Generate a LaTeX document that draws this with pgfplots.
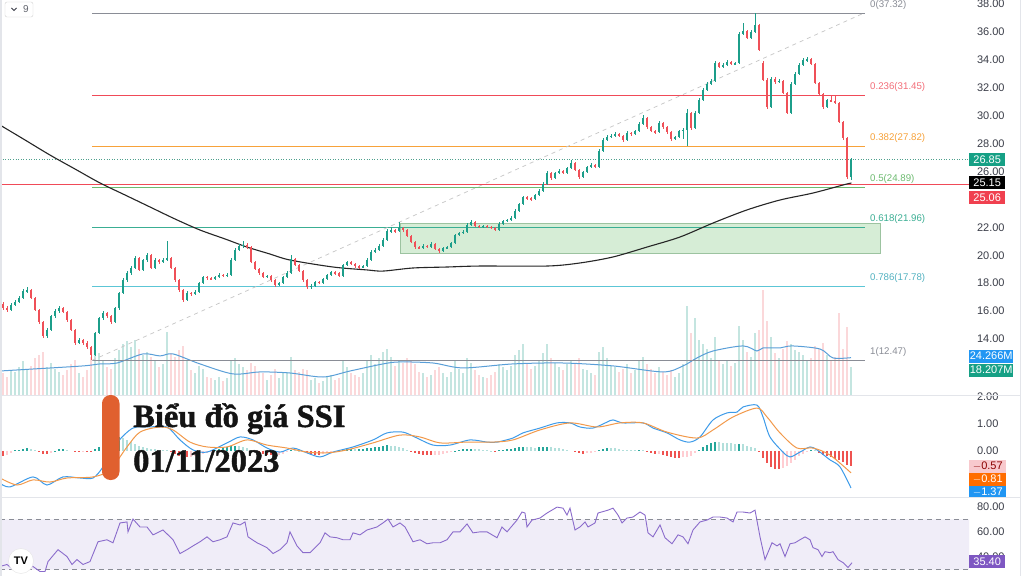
\documentclass[border=0pt]{standalone}
\usepackage{fontspec}
\setmainfont{Liberation Sans}
\newfontfamily\titlefont[BoldFeatures={FakeBold=1.3}]{Liberation Serif}
\usepackage{pgfplots}
\usepackage{pgfplotstable}
\pgfplotsset{compat=1.18}

\definecolor{upc}{HTML}{1C9E8A}
\definecolor{dnc}{HTML}{EF5058}
\definecolor{tvtext}{HTML}{3A3D48}
\definecolor{lvgrey}{HTML}{8A8D96}
\definecolor{lvred}{HTML}{F04A58}
\definecolor{lvorange}{HTML}{F7A23A}
\definecolor{lvgreen}{HTML}{6DBB70}
\definecolor{lvteal}{HTML}{3AAE93}
\definecolor{lvcyan}{HTML}{5CC6D6}
\definecolor{macdblue}{HTML}{3D9BE9}
\definecolor{sigorange}{HTML}{F2994A}
\definecolor{histg}{HTML}{26A69A}
\definecolor{histlg}{HTML}{B2DFDB}
\definecolor{histlr}{HTML}{FFCDD2}
\definecolor{histr}{HTML}{EF5350}
\definecolor{rsip}{HTML}{8A6BCB}
\definecolor{volblue}{HTML}{5A9FD8}
\definecolor{sepc}{HTML}{E3E5EA}
\definecolor{titleorange}{HTML}{E0602F}
\definecolor{boxgreen}{HTML}{16A085}
\definecolor{boxred}{HTML}{F0404F}
\definecolor{boxblue}{HTML}{2196F3}
\definecolor{boxorange}{HTML}{FF6D00}
\definecolor{boxpink}{HTML}{F8C9CD}
\definecolor{boxpurple}{HTML}{7E57C2}
\definecolor{rectfill}{HTML}{D6EDD6}
\definecolor{rectline}{HTML}{9CC3A0}

\newcommand\axf{\fontsize{11}{12}\selectfont}
\newcommand\fibf{\fontsize{9.7}{11}\selectfont}

\tikzset{pbox/.style={anchor=west, inner sep=0pt, minimum height=13pt, minimum width=36pt, fill=#1, text=white, font=\axf}}

\pgfplotstableread{
i o h l c v
0 16.50 16.62 16.05 16.22 14
1 16.22 16.40 15.95 16.10 12
2 16.10 16.55 16.02 16.44 16
3 16.44 16.80 16.35 16.65 15
4 16.65 17.05 16.55 16.94 18
5 16.94 17.55 16.88 17.44 22
6 17.44 17.70 17.30 17.51 17
7 17.51 17.58 16.85 16.94 19
8 16.94 17.00 15.98 16.08 24
9 16.08 16.15 15.10 15.22 26
10 15.22 15.30 14.05 14.22 28
11 14.22 14.80 14.10 14.65 18
12 14.65 15.75 14.55 15.65 21
13 15.65 16.12 15.50 16.01 17
14 16.01 16.35 15.90 16.22 15
15 16.22 16.30 15.85 15.94 13
16 15.94 16.00 15.25 15.37 16
17 15.37 15.45 14.55 14.65 20
18 14.65 14.72 13.60 13.72 23
19 13.72 14.10 13.62 13.93 14
20 13.93 14.00 13.60 13.72 12
21 13.72 13.85 13.30 13.43 16
22 13.43 13.50 12.47 12.86 25
23 12.86 14.50 12.80 14.43 30
24 14.43 15.60 14.35 15.51 27
25 15.51 15.98 15.40 15.87 22
26 15.87 15.95 15.50 15.65 18
27 15.65 15.72 15.10 15.22 17
28 15.22 16.30 15.15 16.22 24
29 16.22 17.40 16.10 17.30 29
30 17.30 18.35 17.20 18.23 33
31 18.23 18.90 18.10 18.73 35
32 18.73 19.25 18.60 19.09 31
33 19.09 19.95 19.00 19.81 36
34 19.81 19.90 18.85 18.95 30
35 18.95 19.75 18.88 19.66 26
36 19.66 20.15 19.55 20.02 28
37 20.02 20.10 19.00 19.09 25
38 19.09 19.80 19.02 19.66 22
39 19.66 19.75 19.40 19.50 18
40 19.50 19.78 19.42 19.66 20
41 19.66 21.05 19.58 19.81 41
42 19.81 19.88 19.00 19.09 27
43 19.09 19.15 18.12 18.23 25
44 18.23 18.30 17.40 17.51 29
45 17.51 17.58 16.65 16.80 32
46 16.80 17.42 16.70 17.30 22
47 17.30 17.40 17.10 17.23 16
48 17.23 17.50 17.15 17.37 14
49 17.37 18.12 17.30 18.02 19
50 18.02 18.55 17.95 18.45 17
51 18.45 18.52 18.25 18.37 12
52 18.37 18.45 18.20 18.30 11
53 18.30 18.55 18.22 18.45 10
54 18.45 18.70 18.38 18.59 12
55 18.59 18.66 18.42 18.52 9
56 18.52 18.70 18.45 18.59 11
57 18.59 19.78 18.52 19.66 22
58 19.66 20.50 19.58 20.38 24
59 20.38 20.80 20.30 20.67 20
60 20.67 21.00 20.55 20.74 18
61 20.74 20.85 20.45 20.59 16
62 20.59 20.65 19.42 19.52 21
63 19.52 19.60 18.92 19.02 19
64 19.02 19.10 18.62 18.73 15
65 18.73 18.80 18.35 18.45 14
66 18.45 18.62 18.38 18.52 10
67 18.52 18.58 18.12 18.23 13
68 18.23 18.30 17.75 17.87 17
69 17.87 18.12 17.78 18.02 11
70 18.02 18.55 17.95 18.45 14
71 18.45 18.85 18.38 18.73 15
72 18.73 20.05 18.65 19.73 25
73 19.73 19.82 19.20 19.30 16
74 19.30 19.38 18.80 18.88 15
75 18.88 18.95 18.12 18.23 17
76 18.23 18.30 17.62 17.73 16
77 17.73 17.92 17.62 17.80 10
78 17.80 18.18 17.72 18.09 11
79 18.09 18.15 17.92 18.02 8
80 18.02 18.40 17.95 18.30 9
81 18.30 18.68 18.22 18.59 12
82 18.59 18.90 18.50 18.80 13
83 18.80 18.88 18.62 18.73 10
84 18.73 18.80 18.42 18.52 11
85 18.52 19.40 18.45 19.30 22
86 19.30 19.62 19.22 19.52 18
87 19.52 19.60 19.28 19.38 14
88 19.38 19.45 19.12 19.23 13
89 19.23 19.30 19.05 19.16 12
90 19.16 19.32 19.08 19.23 14
91 19.23 19.78 19.15 19.66 22
92 19.66 20.35 19.58 20.24 26
93 20.24 20.50 20.15 20.38 20
94 20.38 20.78 20.30 20.67 24
95 20.67 21.22 20.58 21.10 28
96 21.10 21.85 21.02 21.74 30
97 21.74 22.00 21.62 21.81 25
98 21.81 21.90 21.60 21.74 19
99 21.74 22.40 21.65 21.96 23
100 21.96 22.05 21.70 21.81 21
101 21.81 21.88 21.28 21.38 24
102 21.38 21.45 20.85 20.95 22
103 20.95 21.02 20.48 20.59 20
104 20.59 20.70 20.42 20.52 15
105 20.52 20.78 20.45 20.67 14
106 20.67 20.75 20.50 20.59 12
107 20.59 20.92 20.52 20.81 13
108 20.81 20.88 20.35 20.45 16
109 20.45 20.55 20.15 20.31 18
110 20.31 20.62 20.25 20.52 14
111 20.52 20.68 20.45 20.59 12
112 20.59 20.98 20.52 20.88 15
113 20.88 21.55 20.80 21.45 22
114 21.45 21.70 21.38 21.60 17
115 21.60 21.78 21.50 21.67 14
116 21.67 22.28 21.60 22.17 24
117 22.17 22.50 22.10 22.39 21
118 22.39 22.45 22.00 22.10 16
119 22.10 22.18 21.95 22.03 13
120 22.03 22.20 21.98 22.10 12
121 22.10 22.15 21.95 22.03 11
122 22.03 22.10 21.88 21.96 13
123 21.96 22.02 21.72 21.81 15
124 21.81 22.35 21.75 22.24 20
125 22.24 22.55 22.18 22.46 18
126 22.46 22.62 22.38 22.53 16
127 22.53 22.80 22.45 22.67 19
128 22.67 23.28 22.60 23.17 26
129 23.17 23.78 23.10 23.67 29
130 23.67 24.28 23.60 24.17 33
131 24.17 24.25 23.98 24.10 21
132 24.10 24.18 23.92 24.03 17
133 24.03 24.42 23.96 24.32 19
134 24.32 24.72 24.25 24.61 22
135 24.61 25.22 24.55 25.11 27
136 25.11 26.02 25.05 25.90 33
137 25.90 26.00 25.42 25.54 24
138 25.54 26.00 25.48 25.90 21
139 25.90 26.15 25.82 26.04 18
140 26.04 26.12 25.80 25.90 16
141 25.90 26.35 25.85 26.25 20
142 26.25 26.80 26.18 26.61 23
143 26.61 26.68 26.02 26.11 21
144 26.11 26.18 25.50 25.61 24
145 25.61 26.05 25.55 25.97 17
146 25.97 26.42 25.90 26.33 16
147 26.33 26.58 26.25 26.47 14
148 26.47 26.55 26.22 26.33 13
149 26.33 27.58 26.28 27.47 28
150 27.47 28.38 27.40 28.26 31
151 28.26 28.60 28.18 28.47 24
152 28.47 28.68 28.38 28.55 19
153 28.55 28.82 28.48 28.69 18
154 28.69 28.75 28.45 28.55 15
155 28.55 28.62 28.15 28.26 17
156 28.26 28.88 28.20 28.76 20
157 28.76 28.85 28.58 28.69 14
158 28.69 29.00 28.62 28.90 16
159 28.90 29.52 28.82 29.41 22
160 29.41 30.05 29.35 29.84 25
161 29.84 29.92 29.08 29.19 20
162 29.19 29.25 28.80 28.90 17
163 28.90 29.00 28.72 28.83 14
164 28.83 29.60 28.75 29.48 18
165 29.48 29.55 29.08 29.19 15
166 29.19 29.25 28.72 28.83 13
167 28.83 28.90 28.20 28.33 16
168 28.33 28.58 28.25 28.47 12
169 28.47 29.00 28.40 28.90 14
170 28.90 29.10 28.30 28.98 20
171 28.98 30.45 27.82 30.19 58
172 30.19 30.28 29.00 29.12 40
173 29.12 30.30 29.05 30.19 50
174 30.19 31.25 30.12 31.12 36
175 31.12 31.95 31.05 31.84 33
176 31.84 32.40 31.75 32.27 30
177 32.27 32.60 32.18 32.49 24
178 32.49 33.90 32.40 33.77 38
179 33.77 33.85 33.38 33.49 22
180 33.49 33.75 33.40 33.63 20
181 33.63 33.98 33.55 33.85 23
182 33.85 33.92 33.60 33.70 19
183 33.70 33.88 33.62 33.77 21
184 33.77 35.98 33.70 35.85 45
185 35.85 36.65 35.78 36.07 36
186 36.07 36.15 35.48 35.57 28
187 35.57 36.12 35.50 36.00 25
188 36.00 37.32 35.92 36.50 40
189 36.50 36.60 34.60 34.71 42
190 33.80 33.90 32.45 32.56 68
191 32.56 32.70 30.50 30.62 48
192 30.62 32.80 30.55 32.63 38
193 32.63 32.75 32.30 32.42 27
194 32.42 32.62 32.35 32.50 24
195 32.50 32.58 31.52 31.63 30
196 31.63 31.70 30.10 30.19 35
197 30.19 32.40 30.12 32.27 33
198 32.27 33.10 32.20 32.99 29
199 32.99 33.75 32.90 33.63 28
200 33.63 34.12 33.55 33.99 26
201 33.99 34.18 33.85 34.05 22
202 34.05 34.10 33.60 33.71 24
203 33.71 33.78 32.25 32.34 32
204 32.34 32.42 31.45 31.55 30
205 31.55 31.62 30.50 30.62 34
206 30.62 31.20 30.55 31.12 26
207 31.12 31.40 30.95 31.05 22
208 31.05 31.50 30.82 30.91 25
209 30.91 31.00 29.45 29.55 53
210 29.55 29.62 28.28 28.40 30
211 28.40 28.48 25.50 25.60 44
212 25.60 27.00 25.40 26.85 18.207
}\candles

\pgfplotstableread{
i h k
0 -0.18 3
1 -0.15 2
2 -0.08 2
3 0.02 0
4 0.05 0
5 0.08 0
6 0.10 0
7 0.09 1
8 0.04 1
9 -0.04 3
10 -0.10 3
11 -0.12 3
12 -0.06 2
13 0.01 0
14 0.06 0
15 0.07 0
16 0.04 1
17 0.00 1
18 -0.03 3
19 -0.03 3
20 -0.02 2
21 -0.04 3
22 -0.05 3
23 0.06 0
24 0.16 0
25 0.26 0
26 0.36 0
27 0.44 0
28 0.50 0
29 0.52 0
30 0.48 1
31 0.40 1
32 0.32 1
33 0.27 1
34 0.20 1
35 0.15 1
36 0.10 1
37 0.08 1
38 0.06 1
39 0.05 1
40 0.04 1
41 0.02 1
42 -0.05 3
43 -0.12 3
44 -0.18 3
45 -0.23 3
46 -0.24 3
47 -0.22 2
48 -0.20 2
49 -0.17 2
50 -0.12 2
51 -0.07 2
52 -0.02 2
53 0.04 0
54 0.09 0
55 0.13 0
56 0.16 0
57 0.19 0
58 0.20 0
59 0.19 1
60 0.16 1
61 0.12 1
62 0.05 1
63 -0.02 3
64 -0.07 3
65 -0.11 3
66 -0.13 3
67 -0.15 3
68 -0.17 3
69 -0.15 2
70 -0.10 2
71 -0.03 2
72 0.04 0
73 0.04 1
74 0.01 1
75 -0.03 3
76 -0.07 3
77 -0.11 3
78 -0.14 3
79 -0.15 3
80 -0.12 2
81 -0.08 2
82 -0.03 2
83 0.01 0
84 0.02 0
85 0.04 0
86 0.06 0
87 0.07 0
88 0.07 1
89 0.08 0
90 0.09 0
91 0.11 0
92 0.12 0
93 0.14 0
94 0.16 0
95 0.19 0
96 0.21 0
97 0.20 1
98 0.17 1
99 0.13 1
100 0.10 1
101 0.04 1
102 -0.02 3
103 -0.07 3
104 -0.10 3
105 -0.13 3
106 -0.15 3
107 -0.16 3
108 -0.15 2
109 -0.13 2
110 -0.11 2
111 -0.08 2
112 -0.05 2
113 0.01 0
114 0.05 0
115 0.07 0
116 0.08 0
117 0.09 0
118 0.08 1
119 0.06 1
120 0.04 1
121 0.02 1
122 0.01 1
123 -0.01 3
124 0.02 0
125 0.04 0
126 0.06 0
127 0.08 0
128 0.11 0
129 0.14 0
130 0.15 0
131 0.14 1
132 0.13 1
133 0.12 1
134 0.13 0
135 0.14 0
136 0.15 0
137 0.13 1
138 0.12 1
139 0.10 1
140 0.06 1
141 0.02 1
142 0.00 1
143 -0.04 3
144 -0.08 3
145 -0.10 3
146 -0.09 2
147 -0.06 2
148 -0.02 2
149 0.04 0
150 0.09 0
151 0.12 0
152 0.12 1
153 0.10 1
154 0.07 1
155 0.05 1
156 0.03 1
157 0.02 1
158 0.02 1
159 0.03 0
160 0.02 1
161 -0.04 3
162 -0.08 3
163 -0.11 3
164 -0.10 2
165 -0.13 3
166 -0.17 3
167 -0.22 3
168 -0.25 3
169 -0.26 3
170 -0.24 2
171 -0.22 2
172 -0.17 2
173 -0.08 2
174 0.04 0
175 0.14 0
176 0.22 0
177 0.29 0
178 0.34 0
179 0.33 1
180 0.31 1
181 0.30 1
182 0.28 1
183 0.25 1
184 0.27 0
185 0.25 1
186 0.20 1
187 0.16 1
188 0.12 1
189 -0.05 3
190 -0.25 3
191 -0.45 3
192 -0.58 3
193 -0.66 3
194 -0.68 3
195 -0.62 2
196 -0.56 2
197 -0.45 2
198 -0.32 2
199 -0.20 2
200 -0.10 2
201 -0.02 2
202 0.03 0
203 0.02 1
204 -0.06 3
205 -0.14 3
206 -0.20 3
207 -0.24 3
208 -0.28 3
209 -0.35 3
210 -0.42 3
211 -0.52 3
212 -0.57 3
}\hist

\begin{document}
\begin{tikzpicture}[x=1pt,y=1pt]
\path[use as bounding box] (0,0) rectangle (1024,576);
\fill[white] (0,0) rectangle (1024,576);

\pgfplotsset{tvaxis/.style={anchor=south west, scale only axis, width=969pt,
  xmin=-0.75, xmax=241.5, axis line style={draw=none}, xtick=\empty,
  major tick length=0pt, yticklabel pos=right,
  yticklabel style={anchor=west, xshift=4.5pt, font=\axf, text=tvtext},
  /pgf/number format/assume math mode=true,
  /pgf/number format/fixed, /pgf/number format/fixed zerofill,
  /pgf/number format/precision=2, clip=false}}

% ---------- volume (overlay behind price) ----------
\begin{axis}[tvaxis, at={(0pt,181pt)}, height=395pt, ymin=0, ymax=256.75, ytick=\empty]
\addplot[ycomb, draw=upc, draw opacity=0.26, line width=1.7pt, forget plot]
  table[x=i, y expr={\thisrow{c}>=\thisrow{o} ? \thisrow{v} : nan}] {\candles};
\addplot[ycomb, draw=dnc, draw opacity=0.22, line width=1.7pt, forget plot]
  table[x=i, y expr={\thisrow{c}<\thisrow{o} ? \thisrow{v} : nan}] {\candles};
\addplot[color=volblue, line width=1pt, smooth] coordinates {
(-0.75,15.6) (7.5,16.9) (20,18.9) (24.25,20.2) (28.5,20.8) (35,26.7) (39.25,25.4)
(42.5,26.7) (49.25,20.2) (57.5,13.7) (64.25,15.0) (71.75,14.3) (80,11.7) (86.75,15.6)
(95,20.2) (99.25,21.5) (107.5,20.8) (115,17.6) (127.5,20.2) (140,20.8) (152.5,18.9)
(165,15.0) (170,18.9) (173.5,24.1) (177.5,28.6) (185,31.9) (188.5,28.6) (190,30.6)
(194.25,30.6) (197.25,31.9) (204.25,29.9) (207.5,24.1) (212,24.27)};
\coordinate (vb1) at (axis cs:241.5,25.35);
\coordinate (vb2) at (axis cs:241.5,16.25);
\end{axis}

% ---------- price ----------
\begin{axis}[tvaxis, at={(0pt,181pt)}, height=395pt, ymin=9.992, ymax=38.287,
  ytick={14,16,18,20,22,26,28,30,32,34,36,38}]
\addplot[color=rectline, fill=rectfill, line width=0.7pt] coordinates
  {(99.25,20.16) (219.25,20.16) (219.25,22.31) (99.25,22.31) (99.25,20.16)};
\draw[draw=lvgrey, line width=1pt] (axis cs:22.25,37.32) -- (axis cs:215.5,37.32);
\draw[draw=lvred, line width=1pt] (axis cs:22.25,31.45) -- (axis cs:215.5,31.45);
\draw[draw=lvorange, line width=1pt] (axis cs:22.25,27.82) -- (axis cs:215.5,27.82);
\draw[draw=lvgreen, line width=1pt] (axis cs:22.25,24.89) -- (axis cs:215.5,24.89);
\draw[draw=lvteal, line width=1pt] (axis cs:22.25,21.96) -- (axis cs:215.5,21.96);
\draw[draw=lvcyan, line width=1pt] (axis cs:22.25,17.78) -- (axis cs:215.5,17.78);
\draw[draw=lvgrey, line width=1pt] (axis cs:22.25,12.47) -- (axis cs:215.5,12.47);
\draw[draw=gray!45, line width=0.7pt, dash pattern=on 4pt off 4pt] (axis cs:22.25,12.47) -- (axis cs:215,37.32);
\draw[draw=lvred, line width=0.8pt] (axis cs:-0.75,25.06) -- (axis cs:241.5,25.06);
\draw[draw=lvteal!70!gray, line width=0.6pt, dotted] (axis cs:-0.75,26.85) -- (axis cs:241.5,26.85);
\node[anchor=west, yshift=8.5pt, inner sep=0pt, font=\fibf, text=lvgrey] at (axis cs:216.75,37.32) {0(37.32)};
\node[anchor=west, yshift=8.5pt, inner sep=0pt, font=\fibf, text=lvred!80] at (axis cs:216.75,31.45) {0.236(31.45)};
\node[anchor=west, yshift=8.5pt, inner sep=0pt, font=\fibf, text=lvorange] at (axis cs:216.75,27.82) {0.382(27.82)};
\node[anchor=west, yshift=8.5pt, inner sep=0pt, font=\fibf, text=lvgreen] at (axis cs:216.75,24.89) {0.5(24.89)};
\node[anchor=west, yshift=8.5pt, inner sep=0pt, font=\fibf, text=lvteal] at (axis cs:216.75,21.96) {0.618(21.96)};
\node[anchor=west, yshift=8.5pt, inner sep=0pt, font=\fibf, text=lvcyan!90!black] at (axis cs:216.75,17.78) {0.786(17.78)};
\node[anchor=west, yshift=8.5pt, inner sep=0pt, font=\fibf, text=lvgrey] at (axis cs:216.75,12.47) {1(12.47)};
\addplot[color=black!85, line width=1.1pt, smooth] coordinates {
(-0.75,29.33) (5.5,28.26) (11.75,27.18) (18,26.18) (24.25,25.18) (30.5,24.32)
(36.75,23.46) (43,22.60) (49.25,21.81) (55.5,21.17) (61,20.59) (66.75,20.09)
(71.75,19.66) (82.5,19.16) (91,18.95) (95,18.87) (102.5,19.09) (111,19.16)
(119.25,19.23) (136,19.23) (144.25,19.45) (152.5,19.88) (161,20.59) (169.25,21.31)
(177.5,22.31) (186,23.25) (194.25,23.96) (202.5,24.46) (211,25.11) (212,25.15)};
\addplot[forget plot, draw=none, mark=none, error bars/.cd, y dir=both, y explicit, error mark=none,
  error bar style={draw=upc, line width=0.8pt, solid}]
  table[x=i, y expr={\thisrow{c}>=\thisrow{o} ? (\thisrow{h}+\thisrow{l})/2 : nan},
        y error expr={(\thisrow{h}-\thisrow{l})/2}] {\candles};
\addplot[forget plot, draw=none, mark=none, error bars/.cd, y dir=both, y explicit, error mark=none,
  error bar style={draw=dnc, line width=0.8pt, solid}]
  table[x=i, y expr={\thisrow{c}<\thisrow{o} ? (\thisrow{h}+\thisrow{l})/2 : nan},
        y error expr={(\thisrow{h}-\thisrow{l})/2}] {\candles};
\addplot[forget plot, draw=none, mark=none, error bars/.cd, y dir=both, y explicit, error mark=none,
  error bar style={draw=upc, line width=2.6pt, solid}]
  table[x=i, y expr={\thisrow{c}>=\thisrow{o} ? (\thisrow{o}+\thisrow{c})/2 : nan},
        y error expr={max(abs(\thisrow{c}-\thisrow{o})/2,0.04)}] {\candles};
\addplot[forget plot, draw=none, mark=none, error bars/.cd, y dir=both, y explicit, error mark=none,
  error bar style={draw=dnc, line width=2.6pt, solid}]
  table[x=i, y expr={\thisrow{c}<\thisrow{o} ? (\thisrow{o}+\thisrow{c})/2 : nan},
        y error expr={max(abs(\thisrow{c}-\thisrow{o})/2,0.04)}] {\candles};
\coordinate (pb1) at (axis cs:241.5,26.86);
\coordinate (pb2) at (axis cs:241.5,25.21);
\coordinate (pb3) at (axis cs:241.5,24.14);
\end{axis}

% ---------- MACD ----------
\begin{axis}[tvaxis, at={(0pt,79pt)}, height=102pt, ymin=-1.704, ymax=2.074, ytick={0,1,2}]
\addplot[ycomb, draw=histg, line width=2pt, forget plot] table[x=i, y expr={\thisrow{k}==0 ? \thisrow{h} : nan}] {\hist};
\addplot[ycomb, draw=histlg, line width=2pt, forget plot] table[x=i, y expr={\thisrow{k}==1 ? \thisrow{h} : nan}] {\hist};
\addplot[ycomb, draw=histlr, line width=2pt, forget plot] table[x=i, y expr={\thisrow{k}==2 ? \thisrow{h} : nan}] {\hist};
\addplot[ycomb, draw=histr, line width=2pt, forget plot] table[x=i, y expr={\thisrow{k}==3 ? \thisrow{h} : nan}] {\hist};
\addplot[color=macdblue, line width=1pt, smooth] coordinates {
(-0.75,-1.19) (1.75,-1.33) (7.5,-0.96) (11,-1.26) (15,-0.96) (19.25,-1.0) (22.5,-1.0)
(25,-0.59) (28.5,0.30) (32.5,0.85) (36.75,0.89) (41,0.89) (44.25,0.41) (47.5,0.04)
(51,-0.04) (56,0.30) (59.25,0.52) (62.5,0.41) (66,0.11) (69.25,-0.04) (72.5,0.11)
(76,-0.07) (79.25,-0.22) (82.5,-0.04) (87.5,0.15) (92.5,0.41) (96,0.67) (100,0.70)
(103.5,0.48) (107.5,0.22) (111.75,0.22) (116.75,0.41) (121,0.33) (123.5,0.33)
(127.5,0.48) (130,0.67) (134.25,0.85) (138.5,1.04) (141.75,1.04) (144.25,0.89)
(147.5,0.85) (151,1.07) (152.5,1.15) (155,1.04) (160,1.04) (162.5,0.85) (166,0.67)
(169.25,0.41) (171.75,0.33) (174.25,0.52) (177.5,1.15) (181,1.41) (183.5,1.44)
(185,1.63) (188.5,1.70) (190,1.26) (191.75,0.52) (195,-0.04) (196.75,-0.22)
(199.25,-0.04) (201.75,0.15) (203.5,0.04) (206.75,-0.33) (209.25,-0.59) (212,-1.37)};
\addplot[color=sigorange, line width=1pt, smooth] coordinates {
(-0.75,-1.0) (3.5,-1.26) (7.5,-1.07) (11.75,-1.15) (16,-1.0) (22.5,-0.96) (26.75,-0.70)
(31,0.15) (34.25,0.70) (39.25,0.89) (42.5,0.78) (46.75,0.33) (51,0.15) (56,0.15)
(61,0.41) (66,0.22) (71,0.11) (76,-0.04) (81,-0.07) (86,0.04) (92.5,0.30) (99.25,0.59)
(104.25,0.52) (109.25,0.30) (116,0.33) (122.5,0.33) (127.5,0.41) (134.25,0.78)
(141.75,1.04) (148.5,0.89) (154.25,1.04) (160,1.04) (166,0.70) (173.5,0.48)
(177.5,0.78) (182.5,1.26) (188.5,1.59) (191,1.26) (194.25,0.67) (198.5,0.11)
(202.5,0.11) (206.75,-0.15) (212,-0.81)};
\coordinate (mb1) at (axis cs:241.5,-0.556);
\coordinate (mb2) at (axis cs:241.5,-1.056);
\coordinate (mb3) at (axis cs:241.5,-1.52);
\end{axis}

% ---------- RSI ----------
\begin{axis}[tvaxis, at={(0pt,0pt)}, height=79pt, ymin=24.82, ymax=87.77, ytick={40,60,80}]
\addplot[draw=none, fill=rsip, fill opacity=0.12, forget plot] coordinates
  {(-0.75,30) (241.5,30) (241.5,70) (-0.75,70) (-0.75,30)};
\addplot[color=lvgrey, line width=0.7pt, dash pattern=on 5pt off 4pt] coordinates {(-0.75,70) (241.5,70)};
\addplot[color=lvgrey, line width=0.7pt, dash pattern=on 5pt off 4pt] coordinates {(-0.75,30) (241.5,30)};
\addplot[color=rsip, line width=0.9pt] coordinates {
(-0.75,32.4) (1,34.0) (2.5,30.0) (7.5,32.4) (9.25,28.4) (10.5,28.4) (11.25,36.3)
(13.75,45.8) (16,40.3) (17.25,34.0) (18.5,37.9) (20,34.0) (21.75,36.3) (23.75,52.1)
(26,53.7) (27.5,51.3) (29.25,67.1) (31,67.9) (31.25,60.0) (32.5,70.2) (34.25,63.9)
(36,63.9) (37.5,57.6) (40,61.5) (42.5,53.7) (44.25,42.7) (46,45.8) (47.5,48.8)
(49.25,52.1) (51,56.0) (52.5,52.1) (54.25,53.7) (56,56.0) (57.5,67.1) (59.25,65.5)
(60.5,67.9) (61.25,56.0) (63.5,51.3) (66,47.4) (67.5,42.7) (69.25,45.8) (71,51.3)
(71.75,60.0) (73.5,48.8) (75,43.4) (76.75,43.4) (79.25,51.3) (80.5,59.2) (81.75,56.0)
(83.5,55.3) (85,53.7) (86.75,53.7) (87.5,59.2) (89.25,57.6) (91,61.5) (93.5,63.9)
(95,67.1) (96.25,70.2) (97.5,63.9) (99.25,67.1) (100.5,63.9) (102.5,52.1) (104.25,53.7)
(106,50.5) (107.5,51.3) (109.25,51.3) (111,53.7) (112.5,60.0) (114.25,60.0) (116,66.3)
(117.5,59.2) (119.25,60.0) (121,60.0) (123.5,55.3) (124.75,63.9) (126,60.0) (128.5,69.4)
(129.75,75.8) (130.5,75.0) (131,63.9) (132.25,69.4) (134.25,71.0) (136,75.0) (138.5,79.7)
(140,78.9) (141,73.4) (141.75,78.9) (143,61.5) (144.25,63.9) (145.5,67.9) (146.25,63.9)
(148,67.1) (148.75,75.0) (151.25,77.3) (152.5,78.9) (153.75,73.4) (154.75,67.1) (156,71.0)
(157.5,71.8) (159.25,75.8) (160.5,73.4) (161.25,59.2) (162.5,56.0) (164.25,65.5)
(165.5,55.3) (167.25,50.5) (168.75,57.6) (170,56.0) (171.25,50.5) (172.5,61.5)
(174.25,67.9) (176,69.4) (177.5,71.8) (179.25,71.8) (181,71.0) (182.5,67.9) (183.5,75.8)
(185,75.8) (186.75,75.0) (188,77.3) (189.25,56.0) (190.5,37.9) (192.25,51.3) (193.5,48.8)
(194.25,50.5) (195.5,40.3) (196.75,50.5) (198,51.3) (199.25,53.7) (200.5,56.0) (201.75,53.7)
(202.5,47.4) (203.75,45.8) (204.75,40.3) (205.5,44.2) (206.75,43.4) (207.5,44.2)
(208.75,37.9) (210,35.5) (211.25,31.6) (212.25,35.4)};
\coordinate (rb1) at (axis cs:241.5,36.0);
\end{axis}

% ---------- scale boxes (on top of tick labels) ----------
\node[pbox=boxgreen] at (pb1) {26.85};
\node[pbox=black] at (pb2) {25.15};
\node[pbox=boxred] at (pb3) {25.06};
\node[pbox=boxblue, minimum width=44pt] at (vb1) {24.266M};
\node[pbox=boxgreen, minimum width=44pt] at (vb2) {18.207M};
\node[pbox=boxpink, minimum width=37pt, text=red!55!black] at (mb1) {$-$0.57};
\node[pbox=boxorange, minimum width=37pt] at (mb2) {$-$0.81};
\node[pbox=boxblue, minimum width=37pt, minimum height=12pt] at (mb3) {$-$1.37};
\node[pbox=boxpurple] at (rb1) {35.40};

% ---------- frame & decorations ----------
\draw[sepc, line width=1pt] (0,181) -- (1020,181);
\draw[sepc, line width=1pt] (0,79) -- (1020,79);
\draw[sepc, line width=1pt] (1020,0) -- (1020,576);
\draw[sepc, line width=1.5pt] (1.2,0) -- (1.2,576);
\draw[gray!35, fill=white, rounded corners=2pt] (5,559) rectangle (33,574);
\draw[tvtext, line width=0.8pt] (11.5,568) -- (14,565.5) -- (16.5,568);
\node[font=\fontsize{10}{11}\selectfont, text=tvtext!80] at (26,566.5) {9};
\fill[white] (21,15) circle (12.5);
\draw[gray!20] (21,15) circle (12.5);
\node[font=\fontsize{11}{11}\selectfont\bfseries, text=black] at (21,15) {TV};
\fill[titleorange, rounded corners=8.4pt] (102,96) rectangle (119.5,181);
\node[anchor=base west, inner sep=0pt, font={\titlefont\fontsize{32.5}{36}\selectfont\bfseries}, text=black!92] at (133,149) {Biểu đồ giá SSI};
\node[anchor=base west, inner sep=0pt, font={\titlefont\fontsize{32.5}{36}\selectfont\bfseries}, text=black!92] at (133,104.3) {01/11/2023};
\end{tikzpicture}
\end{document}
